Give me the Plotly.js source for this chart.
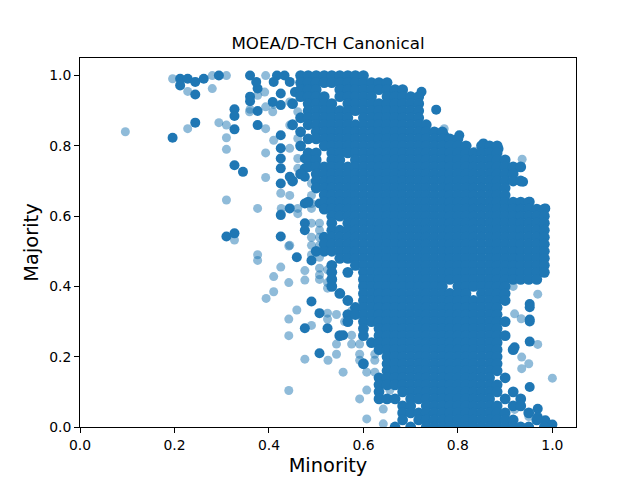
<!DOCTYPE html>
<html>
<head>
<meta charset="utf-8">
<script src="https://cdn.plot.ly/plotly-3.0.1.min.js"></script>
<style>html,body{margin:0;padding:0;background:#fff;}#chart{width:640px;height:480px;}</style>
</head>
<body>
<div id="chart"></div>
<script>
// Dense rows (heavily overlapping points): y value and the x positions in that row
const rowY = [1.00,0.98,0.96,0.94,0.92,0.90,0.88,0.86,0.84,0.82,0.80,0.78,0.76,0.74,0.72,0.70,0.68,0.66,0.64,0.62,0.60,0.58,0.56,0.54,0.52,0.50,0.48,0.46,0.44,0.42,0.40,0.38,0.36,0.34,0.32,0.30,0.28,0.26,0.24,0.22,0.20,0.18,0.16,0.14,0.12,0.10,0.08,0.06,0.04,0.02,0.00];
const rowX = [
[.467,.483,.5,.517,.533,.55,.567,.583,.6],
[.467,.483,.5,.517,.533,.55,.567,.583,.6,.617,.633,.65],
[.467,.483,.5,.55,.567,.583,.6,.617,.633,.65,.667,.683],
[.467,.483,.5,.517,.55,.567,.583,.6,.617,.65,.667,.683,.7,.717],
[.45,.483,.5,.517,.533,.567,.583,.6,.617,.633,.65,.667,.683,.7,.717],
[.483,.5,.517,.533,.55,.567,.583,.6,.617,.633,.65,.667,.683,.7,.717],
[.467,.483,.5,.517,.533,.55,.567,.6,.617,.633,.65,.667,.683,.7,.717],
[.45,.483,.5,.517,.533,.55,.567,.583,.6,.617,.633,.65,.667,.683,.7,.717,.733],
[.467,.5,.517,.533,.55,.567,.583,.6,.617,.633,.65,.667,.683,.7,.717,.733,.75,.767],
[.483,.5,.517,.533,.55,.567,.583,.6,.617,.633,.65,.667,.683,.7,.717,.733,.75,.767,.783,.8],
[.467,.517,.533,.55,.567,.583,.6,.617,.633,.65,.667,.683,.7,.717,.733,.75,.767,.783,.8,.817,.85,.867,.883],
[.483,.5,.533,.55,.567,.583,.6,.617,.633,.65,.667,.683,.7,.717,.733,.75,.767,.783,.8,.817,.833,.85,.867,.883],
[.483,.5,.533,.55,.583,.6,.617,.633,.65,.667,.683,.7,.717,.733,.75,.767,.783,.8,.817,.833,.85,.867,.883,.9],
[.483,.5,.517,.533,.55,.567,.583,.6,.617,.633,.65,.667,.683,.7,.717,.733,.75,.767,.783,.8,.817,.833,.85,.867,.883,.9,.917,.933],
[.467,.5,.517,.533,.55,.567,.583,.6,.617,.633,.65,.667,.683,.7,.717,.733,.75,.767,.783,.8,.817,.833,.85,.867,.883,.9,.917],
[.45,.5,.517,.533,.55,.567,.583,.6,.617,.633,.65,.667,.683,.7,.717,.733,.75,.767,.783,.8,.817,.833,.85,.867,.883,.9,.917,.933],
[.5,.517,.533,.55,.567,.583,.6,.617,.633,.65,.667,.683,.7,.717,.733,.75,.767,.783,.8,.817,.833,.85,.867,.883,.9],
[.517,.533,.55,.567,.583,.6,.617,.633,.65,.667,.683,.7,.717,.733,.75,.767,.783,.8,.817,.833,.85,.867,.883,.9],
[.483,.517,.533,.55,.567,.583,.6,.617,.633,.65,.667,.683,.7,.717,.733,.75,.767,.783,.8,.817,.833,.85,.867,.883,.9,.917,.933,.95],
[.517,.533,.55,.567,.583,.6,.617,.633,.65,.667,.683,.7,.717,.733,.75,.767,.783,.8,.817,.833,.85,.867,.883,.9,.917,.933,.95,.967,.983],
[.533,.55,.567,.583,.6,.617,.633,.65,.667,.683,.7,.717,.733,.75,.767,.783,.8,.817,.833,.85,.867,.883,.9,.917,.933,.95,.967,.983],
[.533,.567,.583,.6,.617,.633,.65,.667,.683,.7,.717,.733,.75,.767,.783,.8,.817,.833,.85,.867,.883,.9,.917,.933,.95,.967,.983],
[.533,.55,.567,.583,.6,.617,.633,.65,.667,.683,.7,.717,.733,.75,.767,.783,.8,.817,.833,.85,.867,.883,.9,.917,.933,.95,.967,.983],
[.517,.533,.55,.567,.583,.6,.617,.633,.65,.667,.683,.7,.717,.733,.75,.767,.783,.8,.817,.833,.85,.867,.883,.9,.917,.933,.95,.967,.983],
[.517,.533,.55,.567,.583,.6,.617,.633,.65,.667,.683,.7,.717,.733,.75,.767,.783,.8,.817,.833,.85,.867,.883,.9,.917,.933,.95,.967,.983],
[.5,.517,.533,.55,.567,.583,.6,.617,.633,.65,.667,.683,.7,.717,.733,.75,.767,.783,.8,.817,.833,.85,.867,.883,.9,.917,.933,.95,.967,.983],
[.55,.567,.583,.6,.617,.633,.65,.667,.683,.7,.717,.733,.75,.767,.783,.8,.817,.833,.85,.867,.883,.9,.917,.933,.95,.967,.983],
[.533,.583,.6,.617,.633,.65,.667,.683,.7,.717,.733,.75,.767,.783,.8,.817,.833,.85,.867,.883,.9,.917,.933,.95,.967,.983],
[.533,.567,.6,.617,.633,.65,.667,.683,.7,.717,.733,.75,.767,.783,.8,.817,.833,.85,.867,.883,.9,.917,.933,.95,.967,.983],
[.533,.6,.617,.633,.65,.667,.683,.7,.717,.733,.75,.767,.783,.8,.817,.833,.85,.867,.883,.9,.917,.933,.95,.967],
[.533,.6,.617,.633,.65,.667,.683,.7,.717,.733,.75,.767,.8,.817,.833,.85,.867,.883,.9],
[.55,.6,.617,.633,.65,.667,.683,.7,.717,.733,.75,.767,.783,.8,.817,.85,.867,.883,.9],
[.567,.6,.617,.633,.65,.667,.683,.7,.717,.733,.75,.767,.783,.8,.817,.833,.85,.867,.883,.9],
[.583,.6,.617,.633,.65,.667,.683,.7,.717,.733,.75,.767,.783,.8,.817,.833,.85,.867,.883],
[.567,.583,.6,.617,.633,.65,.667,.683,.7,.717,.733,.75,.767,.783,.8,.817,.833,.85,.867,.883],
[.567,.6,.617,.633,.65,.667,.683,.7,.717,.733,.75,.767,.783,.8,.817,.833,.85,.867,.883,.9],
[.6,.633,.65,.667,.683,.7,.717,.733,.75,.767,.783,.8,.817,.833,.85,.867,.883],
[.55,.6,.633,.65,.667,.683,.7,.717,.733,.75,.767,.783,.8,.817,.833,.85,.867,.883,.9],
[.617,.633,.65,.667,.683,.7,.717,.733,.75,.767,.783,.8,.817,.833,.85,.867,.883],
[.633,.65,.667,.683,.7,.717,.733,.75,.767,.783,.8,.817,.833,.85,.867,.883,.917],
[.65,.667,.683,.7,.717,.733,.75,.767,.783,.8,.817,.833,.85,.867,.883],
[.6,.65,.667,.683,.7,.717,.733,.75,.767,.783,.8,.817,.833,.85,.867,.883],
[.65,.667,.683,.7,.717,.733,.75,.767,.783,.8,.817,.833,.85,.867,.883],
[.633,.65,.667,.683,.7,.717,.733,.75,.767,.783,.8,.817,.833,.85,.867,.9],
[.633,.65,.667,.683,.7,.717,.733,.75,.767,.783,.8,.817,.833,.85,.867,.883],
[.633,.683,.7,.717,.733,.75,.767,.783,.8,.817,.833,.85,.867,.883,.917],
[.633,.65,.667,.7,.717,.733,.75,.767,.783,.8,.817,.833,.85,.867,.9,.933],
[.683,.7,.733,.75,.767,.783,.8,.817,.833,.85,.867,.883,.917,.933],
[.683,.7,.717,.733,.75,.767,.783,.8,.817,.833,.85,.867,.883,.9,.95],
[.683,.717,.733,.75,.767,.783,.8,.817,.833,.85,.867,.883,.9,.917,.967],
[.667,.7,.733,.75,.767,.783,.8,.817,.833,.85,.867,.883,.9,.917,.933,.95,.983]
];
// Isolated points drawn over several times (dark)
const darkX = [0.196,0.244,0.212,0.228,0.244,0.262,0.294,0.212,0.244,0.327,0.327,0.327,0.327,0.345,0.31,0.327,0.36,0.36,0.36,0.376,0.376,0.376,0.373,0.417,0.433,0.41,0.444,0.425,0.425,0.408,0.455,0.425,0.425,0.425,0.425,0.425,0.444,0.476,0.476,0.476,0.425,0.444,0.425,0.476,0.507,0.476,0.476,0.459,0.49,0.49,0.476,0.507,0.507,0.524,0.557,0.754,0.723,0.803,0.771,0.854,0.868,0.886,0.92,0.905,0.938,0.952,0.985,0.952,0.952,0.952,0.952,0.92,0.952,0.969,0.969,0.985,1.0,0.952];
const darkY = [0.823,0.866,0.991,0.991,0.982,0.991,1.0,0.972,0.946,0.904,0.885,0.847,0.745,0.726,0.542,0.551,1.0,0.94,0.927,0.963,0.899,0.859,0.982,1.0,1.0,0.982,0.982,0.949,0.916,0.925,0.953,0.83,0.793,0.764,0.736,0.693,0.712,0.764,0.736,0.712,0.603,0.622,0.542,0.636,0.636,0.58,0.56,0.483,0.474,0.357,0.281,0.324,0.21,0.281,0.261,0.903,0.954,0.83,0.83,0.807,0.795,0.792,0.735,0.74,0.698,0.641,0.622,0.35,0.341,0.306,0.243,0.227,0.114,0.052,0.028,0.019,0.007,0.3];
// Single points (light)
const lightX = [0.096,0.228,0.196,0.28,0.31,0.228,0.28,0.294,0.31,0.31,0.31,0.31,0.327,0.36,0.376,0.393,0.393,0.393,0.41,0.393,0.393,0.376,0.41,0.425,0.391,0.444,0.359,0.408,0.461,0.444,0.461,0.444,0.461,0.461,0.49,0.507,0.444,0.49,0.49,0.426,0.461,0.49,0.426,0.461,0.49,0.507,0.507,0.49,0.507,0.444,0.49,0.507,0.376,0.376,0.425,0.41,0.41,0.394,0.442,0.442,0.459,0.442,0.442,0.442,0.476,0.476,0.476,0.49,0.524,0.524,0.49,0.507,0.507,0.507,0.524,0.524,0.524,0.507,0.543,0.575,0.575,0.592,0.543,0.592,0.624,0.592,0.624,0.557,0.607,0.624,0.607,0.656,0.592,0.642,0.607,0.642,0.525,0.575,0.543,0.56,0.935,0.935,0.969,1.0,0.92,0.934,0.969,0.936,0.82,0.836,0.771,0.9,0.917,0.95,0.92,0.95];
const lightY = [0.84,0.849,0.991,1.0,1.0,0.955,0.963,0.866,0.859,0.823,0.79,0.646,0.532,0.904,0.944,1.0,0.911,0.849,0.816,0.78,0.71,0.622,0.918,0.665,0.953,0.925,0.897,0.897,0.897,0.859,0.821,0.793,0.764,0.736,0.693,0.693,0.659,0.659,0.636,0.622,0.622,0.622,0.607,0.607,0.58,0.58,0.56,0.54,0.54,0.517,0.517,0.517,0.49,0.474,0.455,0.428,0.385,0.366,0.411,0.515,0.333,0.307,0.26,0.104,0.445,0.418,0.193,0.289,0.324,0.307,0.49,0.483,0.433,0.42,0.447,0.411,0.395,0.452,0.236,0.261,0.236,0.236,0.207,0.207,0.207,0.19,0.19,0.156,0.156,0.156,0.105,0.105,0.08,0.051,0.023,0.009,0.19,0.33,0.32,0.3,0.199,0.166,0.235,0.139,0.322,0.308,0.378,0.762,0.80,0.785,0.849,0.36,0.4,0.18,0.05,0.03];

const denseX = [], denseY = [];
rowY.forEach((y, i) => rowX[i].forEach(x => { denseX.push(x); denseY.push(y); }));

const blue = '#1f77b4';
const traces = [
  {type:'scatter', mode:'markers', x: lightX, y: lightY, marker:{color: blue, size: 9, opacity: 0.5, line:{width:0}}, hoverinfo:'skip'},
  {type:'scatter', mode:'markers', x: darkX, y: darkY, marker:{color: blue, size: 10, opacity: 1, line:{width:0}}, hoverinfo:'skip'},
  {type:'scatter', mode:'markers', x: denseX, y: denseY, marker:{color: blue, size: 10.8, opacity: 1, line:{width:0}}, hoverinfo:'skip'}
];

const font = 'DejaVu Sans, Liberation Sans, sans-serif';
const axisCommon = {
  range:[0,1.05], tick0:0, dtick:0.2, tickformat:'.1f',
  showgrid:false, zeroline:false, showline:true, mirror:true,
  linecolor:'#000', linewidth:1, ticks:'outside', ticklen:5, tickwidth:1, tickcolor:'#000',
  tickfont:{family:font, size:13.9, color:'#000'}
};
const layout = {
  width:640, height:480,
  margin:{l:80, r:64, t:58, b:53},
  paper_bgcolor:'#fff', plot_bgcolor:'#fff',
  showlegend:false,
  font:{family:font, color:'#000'},
  title:{text:'MOEA/D-TCH Canonical', font:{family:font, size:16.7, color:'#000'}, x:0.5, xref:'paper', xanchor:'center', y:0.91, yref:'container', yanchor:'middle'},
  xaxis: Object.assign({}, axisCommon, {title:{text:'Minority', font:{family:font, size:19.4, color:'#000'}, standoff:6}}),
  yaxis: Object.assign({}, axisCommon, {title:{text:'Majority', font:{family:font, size:19.4, color:'#000'}, standoff:5}})
};
Plotly.newPlot('chart', traces, layout, {staticPlot:true, displayModeBar:false});
</script>
</body>
</html>
